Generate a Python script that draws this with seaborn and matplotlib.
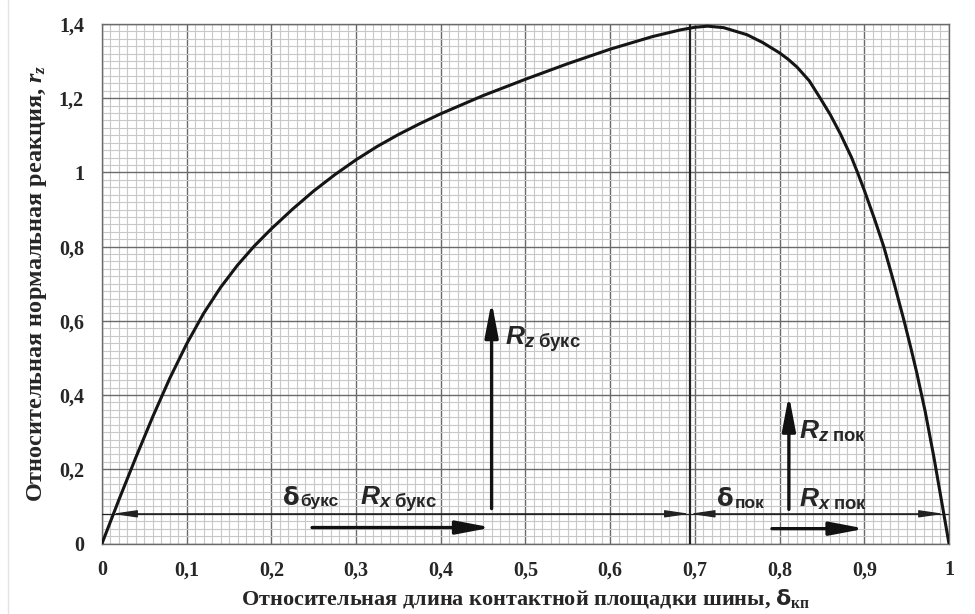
import numpy as np
import pandas as pd
import matplotlib
matplotlib.use('Agg')
import matplotlib.pyplot as plt
from matplotlib.lines import Line2D
from matplotlib.ticker import MultipleLocator
from matplotlib.transforms import offset_copy
import seaborn as sns

# ---- data ----
delta_kp = [0.0, 0.02, 0.04, 0.06, 0.08, 0.10, 0.12, 0.14, 0.16, 0.18,
            0.20, 0.225, 0.25, 0.275, 0.30, 0.325, 0.35, 0.375, 0.40, 0.45,
            0.50, 0.55, 0.60, 0.65, 0.683, 0.70, 0.715, 0.734, 0.7615, 0.78,
            0.80, 0.81, 0.8205, 0.835, 0.848, 0.86, 0.872, 0.885, 0.892, 0.90,
            0.912, 0.923, 0.935, 0.947, 0.955, 0.962, 0.972, 0.982, 0.9935, 1.0]
r_z = [0.0, 0.118, 0.232, 0.342, 0.445, 0.538, 0.62, 0.69, 0.75, 0.802,
       0.848, 0.901, 0.95, 0.994, 1.034, 1.07, 1.102, 1.131, 1.158, 1.207,
       1.251, 1.293, 1.332, 1.366, 1.384, 1.391, 1.394, 1.39, 1.371, 1.35,
       1.322, 1.305, 1.284, 1.247, 1.2, 1.155, 1.103, 1.04, 1.0, 0.952,
       0.875, 0.8, 0.703, 0.6, 0.527, 0.46, 0.355, 0.235, 0.085, 0.0]

x_ticks = [0, 0.1, 0.2, 0.3, 0.4, 0.5, 0.6, 0.7, 0.8, 0.9, 1.0]
x_tick_labels = ['0', '0,1', '0,2', '0,3', '0,4', '0,5', '0,6', '0,7', '0,8', '0,9', '1']
y_ticks = [0, 0.2, 0.4, 0.6, 0.8, 1.0, 1.2, 1.4]
y_tick_labels = ['0', '0,2', '0,4', '0,6', '0,8', '1', '1,2', '1,4']

boundary_x = 0.694          # граница буксования / покоя
dim_y = 0.08                # уровень размерной линии
dim_left = 0.012
dim_right = 0.994

# force arrows: (x_tail, y_tail, x_tip, y_tip)
rx_buks = (0.248, 0.043, 0.46, 0.043)
rz_buks = (0.46, 0.094, 0.46, 0.652)
rx_pok = (0.791, 0.040, 0.901, 0.040)
rz_pok = (0.811, 0.092, 0.811, 0.400)

xlabel = r'Относительная длина контактной площадки шины, $\mathsf{δ}_{\mathrm{кп}}$'
ylabel = r'Относительная нормальная реакция, $r_z$'

# ---- style ----
sns.set_style('white')
plt.rcParams['font.family'] = ['Liberation Serif', 'DejaVu Sans']
plt.rcParams['font.weight'] = 'bold'
plt.rcParams['mathtext.fontset'] = 'custom'
plt.rcParams['mathtext.rm'] = 'Liberation Serif:bold'
plt.rcParams['mathtext.it'] = 'Liberation Serif:italic:bold'
plt.rcParams['mathtext.bf'] = 'Liberation Sans:bold'
plt.rcParams['mathtext.sf'] = 'DejaVu Sans:bold'
plt.rcParams['mathtext.tt'] = 'Liberation Sans:italic:bold'

fig, ax = plt.subplots(figsize=(9.75, 6.14), dpi=100)
fig.subplots_adjust(left=0.1046, right=0.9733, bottom=0.1148, top=0.961)

df = pd.DataFrame({'delta': delta_kp, 'rz': r_z})
sns.lineplot(data=df, x='delta', y='rz', ax=ax, color='#151515', lw=2.2,
             sort=False, estimator=None, zorder=5)

ax.set_xlim(0, 1)
ax.set_ylim(0, 1.4)
ax.set_xticks(x_ticks)
ax.set_xticklabels(x_tick_labels)
ax.set_yticks(y_ticks)
ax.set_yticklabels(y_tick_labels)
ax.xaxis.set_minor_locator(MultipleLocator(0.01))
ax.yaxis.set_minor_locator(MultipleLocator(0.02))
ax.set_axisbelow(True)
ax.grid(which='minor', color='#c8c8c8', lw=0.8)
ax.grid(which='major', color='#6a6a6a', lw=1.0)
ax.tick_params(which='both', length=0)
ax.tick_params(axis='x', pad=12, labelsize=14.5)
ax.tick_params(axis='y', pad=13, labelsize=14.5)
for lab in ax.get_xticklabels() + ax.get_yticklabels():
    lab.set_fontweight('bold')
for sp in ax.spines.values():
    sp.set_color('#6a6a6a')
    sp.set_linewidth(1.0)

ax.set_xlabel(xlabel, fontsize=16, fontweight='bold', labelpad=5)
ax.set_ylabel(ylabel, fontsize=17.5, fontweight='bold', labelpad=7)

# boundary line
ax.axvline(boundary_x, color='#222222', lw=1.6, zorder=4)

# dimension line with arrows
ax.plot([0, 1], [dim_y, dim_y], color='#222222', lw=0.9, zorder=4)
thin = dict(arrowstyle='<|-|>,head_length=1.5,head_width=0.22', mutation_scale=10,
            lw=0.9, color='#222222', shrinkA=0, shrinkB=0)
ax.annotate('', xy=(dim_left, dim_y), xytext=(boundary_x, dim_y), arrowprops=thin, zorder=4)
ax.annotate('', xy=(boundary_x, dim_y), xytext=(dim_right, dim_y), arrowprops=thin, zorder=4)

# force arrows
thick = dict(arrowstyle='-|>,head_length=2.1,head_width=0.4', mutation_scale=10,
             lw=2.4, color='#111111', shrinkA=0, shrinkB=0)
for (x0, y0, x1, y1) in (rx_buks, rz_buks, rx_pok, rz_pok):
    ax.annotate('', xy=(x1, y1), xytext=(x0, y0), arrowprops=thick, zorder=6)

# labels
fs = 19
ax.text(0.305, 0.104, r'$\mathtt{R}_{\mathtt{x}\ \mathbf{букс}}$', fontsize=fs, ha='left', va='baseline', zorder=7)
ax.text(0.476, 0.535, r'$\mathtt{R}_{\mathtt{z}\ \mathbf{букс}}$', fontsize=fs, ha='left', va='baseline', zorder=7)
ax.text(0.823, 0.100, r'$\mathtt{R}_{\mathtt{x}\ \mathbf{пок}}$', fontsize=fs, ha='left', va='baseline', zorder=7)
ax.text(0.823, 0.284, r'$\mathtt{R}_{\mathtt{z}\ \mathbf{пок}}$', fontsize=fs, ha='left', va='baseline', zorder=7)

for (xd, yd, sub) in ((0.214, 0.104, 'букс'), (0.726, 0.100, 'пок')):
    ax.text(xd, yd, 'δ', fontsize=17.5, family='DejaVu Sans', fontweight='bold',
            ha='left', va='baseline', zorder=7)
    tr = offset_copy(ax.transData, fig=fig, x=12.5, y=-1.0, units='points')
    ax.text(xd, yd, sub, fontsize=12.5, family='Liberation Sans', fontweight='bold',
            ha='left', va='baseline', transform=tr, zorder=7)

fig.add_artist(Line2D([8 / 975, 8 / 975], [0, 1], color='#e4e4e4', lw=1.0))

fig.savefig('out.png', dpi=100)
